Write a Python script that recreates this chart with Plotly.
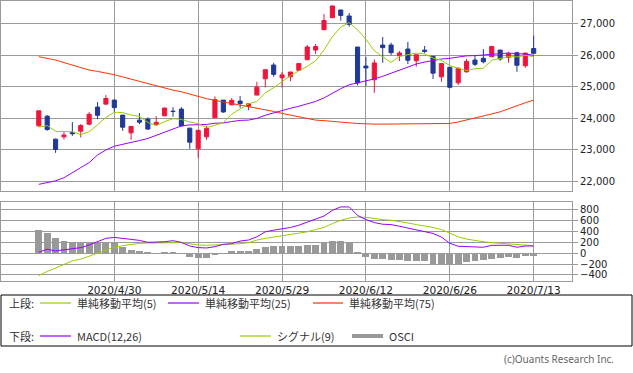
import plotly.graph_objects as go

# ---------------- data ----------------
idx = list(range(60))
tick_pos = [9, 19, 29, 39, 49, 59]
tick_labels = ["2020/4/30", "2020/5/14", "2020/5/29", "2020/6/12", "2020/6/26", "2020/7/13"]

opens = [23766, 24075, 23344, 23418, 23557, 23598, 23821, 24361, 24457, 24584,
         24107, 23544, 23948, 23980, 23799, 24085, 24234, 24298, 23694, 23036,
         23417, 24021, 24584, 24434, 24552, 24393, 24743, 25261, 25697, 25293,
         25325, 25528, 25865, 26173, 26819, 27200, 27445, 27254, 26269, 25665,
         25229, 26332, 26332, 25992, 26205, 25833, 26170, 25973, 25325, 25624,
         25134, 25484, 25856, 25910, 25961, 26173, 25941, 26088, 25674, 26220]
highs = [24266, 24107, 23360, 23576, 23885, 23821, 24202, 24520, 24743, 24600,
         24107, 23757, 24171, 24034, 24075, 24345, 24361, 24361, 23700, 23640,
         23767, 24701, 24584, 24647, 24711, 24479, 25166, 25548, 25771, 25474,
         25480, 25742, 26332, 26364, 27318, 27580, 27445, 27350, 26269, 25951,
         25878, 26587, 26406, 26142, 26428, 26030, 26301, 25973, 25750, 25624,
         25611, 25887, 26005, 26205, 26301, 26173, 26120, 26120, 26088, 26628]
lows = [23740, 23610, 22908, 23334, 23449, 23397, 23779, 23980, 24425, 24212,
        23608, 23322, 23821, 23640, 23779, 24070, 24053, 23757, 23036, 22750,
        23322, 24021, 24180, 24415, 24339, 24266, 24743, 24988, 25325, 24988,
        25188, 25528, 25865, 26046, 26819, 27200, 27105, 26915, 25051, 25029,
        24816, 25770, 26014, 25824, 25728, 25643, 26069, 25252, 25166, 24960,
        25061, 25452, 25665, 25751, 25961, 25834, 25770, 25484, 25611, 26056]
closes = [24242, 23650, 23018, 23475, 23515, 23775, 24134, 24101, 24634, 24346,
          23724, 23749, 23883, 23664, 23875, 24331, 24221, 23764, 23248, 23625,
          23685, 24597, 24207, 24576, 24474, 24465, 24995, 25548, 25401, 25383,
          25475, 25742, 26270, 26282, 27111, 27572, 27272, 26990, 25128, 25606,
          25763, 26250, 26090, 26080, 25850, 26025, 26130, 25440, 25745, 24990,
          25596, 25813, 25720, 25800, 26287, 25890, 26067, 25690, 26075, 26070]

sma5 = [23725, 23777, 23590, 23585, 23580, 23487, 23583, 23800, 24032, 24198,
        24188, 24111, 24067, 23873, 23779, 23900, 23995, 23971, 23888, 23838,
        23709, 23784, 23872, 24138, 24308, 24464, 24543, 24812, 24977, 25158,
        25360, 25510, 25654, 25830, 26176, 26595, 26901, 27045, 26815, 26514,
        26152, 25955, 25781, 25972, 26025, 26077, 26050, 25916, 25849, 25678,
        25592, 25523, 25581, 25597, 25852, 25910, 25961, 25955, 26005, 25965]
sma25 = [21910, 21960, 22020, 22120, 22280, 22430, 22600, 22840, 23000, 23120,
         23175, 23235, 23300, 23365, 23470, 23575, 23680, 23765, 23795, 23800,
         23810, 23850, 23860, 23903, 23940, 23949, 24003, 24104, 24182, 24256,
         24324, 24389, 24475, 24541, 24652, 24806, 24947, 25071, 25130, 25199,
         25256, 25339, 25433, 25546, 25636, 25730, 25792, 25842, 25888, 25910,
         25955, 25988, 25996, 26013, 26049, 26065, 26078, 26056, 26048, 26007]
sma75 = [25961, 25905, 25856, 25775, 25697, 25615, 25538, 25495, 25452, 25389,
         25320, 25252, 25185, 25115, 25035, 24956, 24900, 24848, 24770, 24689,
         24630, 24575, 24525, 24479, 24436, 24393, 24340, 24288, 24225, 24161,
         24107, 24053, 24000, 23948, 23932, 23916, 23889, 23862, 23842, 23821,
         23821, 23821, 23821, 23821, 23821, 23821, 23821, 23821, 23830, 23843,
         23890, 23948, 24010, 24075, 24145, 24212, 24315, 24415, 24500, 24584]

macd = [18, 73, 42, 60, 73, 103, 152, 212, 274, 292,
        274, 243, 237, 201, 201, 212, 231, 201, 133, 103,
        97, 121, 164, 176, 225, 243, 303, 395, 425, 444,
        475, 517, 577, 626, 687, 791, 855, 855, 699, 621,
        566, 535, 529, 498, 468, 431, 402, 365, 298, 183,
        128, 121, 110, 110, 146, 146, 146, 110, 133, 133]
signal = [-415, -336, -274, -201, -141, -110, -62, 0, 60, 110,
          139, 164, 183, 188, 188, 194, 194, 194, 176, 152,
          146, 152, 152, 170, 176, 194, 243, 274, 303, 322,
          347, 365, 395, 438, 475, 548, 608, 650, 669, 663,
          639, 621, 608, 590, 559, 529, 504, 475, 438, 365,
          303, 261, 231, 212, 194, 183, 170, 164, 152, 139]
osci = [444, 383, 298, 243, 201, 194, 194, 194, 194, 194,
        115, 73, 55, 24, 6, 18, 24, 5, -61, -79,
        -79, -30, 8, 43, 43, 43, 79, 116, 134, 134,
        134, 134, 152, 152, 194, 243, 231, 194, 18, -67,
        -103, -103, -122, -122, -140, -140, -140, -183, -183, -201,
        -201, -152, -134, -122, -91, -79, -61, -73, -49, -49]

# ---------------- styling ----------------
RED = "#F0143C"
NAVY = "#203896"
GREEN = "#99CC00"
PURPLE = "#9B00FF"
ORANGE = "#FF3300"
GRAY = "#999999"
GRID = "#9a9a9a"

W, H = 633, 373
ML, MR, MT, MB = 1, 61, 1, 0
PW, PH = W - ML - MR, H - MT - MB


def px(x):
    return (x - ML) / PW


def py(y):
    return 1 - (y - MT) / PH


fig = go.Figure()

fig.add_trace(go.Candlestick(
    x=idx, open=opens, high=highs, low=lows, close=closes,
    increasing=dict(line=dict(color=RED, width=1), fillcolor=RED),
    decreasing=dict(line=dict(color=NAVY, width=1), fillcolor=NAVY),
    whiskerwidth=0, xaxis="x", yaxis="y", showlegend=False, hoverinfo="skip"))

for vals, col in [(sma75, ORANGE), (sma25, PURPLE), (sma5, GREEN)]:
    fig.add_trace(go.Scatter(x=idx, y=vals, mode="lines", line=dict(color=col, width=1),
                             xaxis="x", yaxis="y", showlegend=False, hoverinfo="skip"))

fig.add_trace(go.Bar(x=idx, y=osci, width=0.82, marker=dict(color=GRAY, line=dict(width=0)),
                     xaxis="x2", yaxis="y2", showlegend=False, hoverinfo="skip"))
fig.add_trace(go.Scatter(x=idx, y=signal, mode="lines", line=dict(color=GREEN, width=1),
                         xaxis="x2", yaxis="y2", showlegend=False, hoverinfo="skip"))
fig.add_trace(go.Scatter(x=idx, y=macd, mode="lines", line=dict(color=PURPLE, width=1),
                         xaxis="x2", yaxis="y2", showlegend=False, hoverinfo="skip"))

xrange = [(ML - 38.8) / 8.388, (ML + PW - 38.8) / 8.388]
tickfont = dict(family="DejaVu Sans", size=10, color="#222")

common_x = dict(range=xrange, showgrid=True, gridcolor=GRID, gridwidth=1,
                tickvals=tick_pos, zeroline=False, showline=True, mirror=True,
                linecolor=GRID, linewidth=1, ticks="", fixedrange=True)

fig.update_layout(
    width=W, height=H,
    margin=dict(l=ML, r=MR, t=MT, b=MB),
    paper_bgcolor="white", plot_bgcolor="white",
    bargap=0,
    xaxis=dict(common_x, domain=[0, 1], anchor="y", showticklabels=False,
               rangeslider=dict(visible=False)),
    yaxis=dict(domain=[py(190.5), py(MT)], range=[21714, 27730], side="right",
               tickvals=[22000, 23000, 24000, 25000, 26000, 27000], tickformat=",d",
               showgrid=True, gridcolor=GRID, zeroline=False, showline=True, mirror=True,
               linecolor=GRID, ticks="outside", ticklen=5, tickcolor=GRID,
               tickfont=tickfont, anchor="x", fixedrange=True),
    xaxis2=dict(common_x, domain=[0, 1], anchor="y2", matches="x",
                ticktext=tick_labels, showticklabels=True,
                tickfont=dict(family="DejaVu Sans", size=10.6, color="#222")),
    yaxis2=dict(domain=[py(280.5), py(201.5)], range=[-504, 955], side="right",
                tickvals=[-400, -200, 0, 200, 400, 600, 800],
                showgrid=True, gridcolor=GRID, zeroline=False, showline=True, mirror=True,
                linecolor=GRID, ticks="outside", ticklen=5, tickcolor=GRID,
                tickfont=tickfont, anchor="x2", fixedrange=True),
)

# ---------------- legend box ----------------
shapes = [dict(type="rect", xref="paper", yref="paper", x0=px(1), x1=px(632), y0=py(346), y1=py(295),
               line=dict(color="#000", width=1), fillcolor="rgba(0,0,0,0)")]
annotations = []
lfont = dict(family="Noto Sans CJK JP", size=11, color="#333")


def leg_line(x0, x1, y, color, width=1.2):
    shapes.append(dict(type="line", xref="paper", yref="paper", x0=px(x0), x1=px(x1),
                       y0=py(y), y1=py(y), line=dict(color=color, width=width)))


def leg_text(x, y, text, font=lfont, anchor="left"):
    annotations.append(dict(xref="paper", yref="paper", x=px(x), y=py(y), text=text,
                            showarrow=False, xanchor=anchor, yanchor="middle", font=font,
                            borderpad=0))


r1, r2 = 303, 336
leg_text(8, r1, "上段:")
leg_line(40, 71, r1, GREEN)
leg_text(76, r1, "単純移動平均(5)")
leg_line(168, 199, r1, PURPLE)
leg_text(204, r1, "単純移動平均(25)")
leg_line(313, 343, r1, ORANGE)
leg_text(348, r1, "単純移動平均(75)")

leg_text(8, r2, "下段:")
leg_line(40, 71, r2, PURPLE)
leg_text(76, r2, "MACD(12,26)")
leg_line(240, 271, r2, GREEN)
leg_text(276, r2, "シグナル(9)")
leg_line(352, 383, r2, GRAY, width=4)
leg_text(388, r2, "OSCI")

leg_text(615, 359, "(c)Ouants Research Inc.",
         font=dict(family="Noto Sans", size=10, color="#666"), anchor="right")

fig.update_layout(shapes=shapes, annotations=annotations)

fig.write_html("out.html",
               config={"displayModeBar": False},
               post_script="document.body.style.margin='0px';document.body.style.overflow='hidden';")
